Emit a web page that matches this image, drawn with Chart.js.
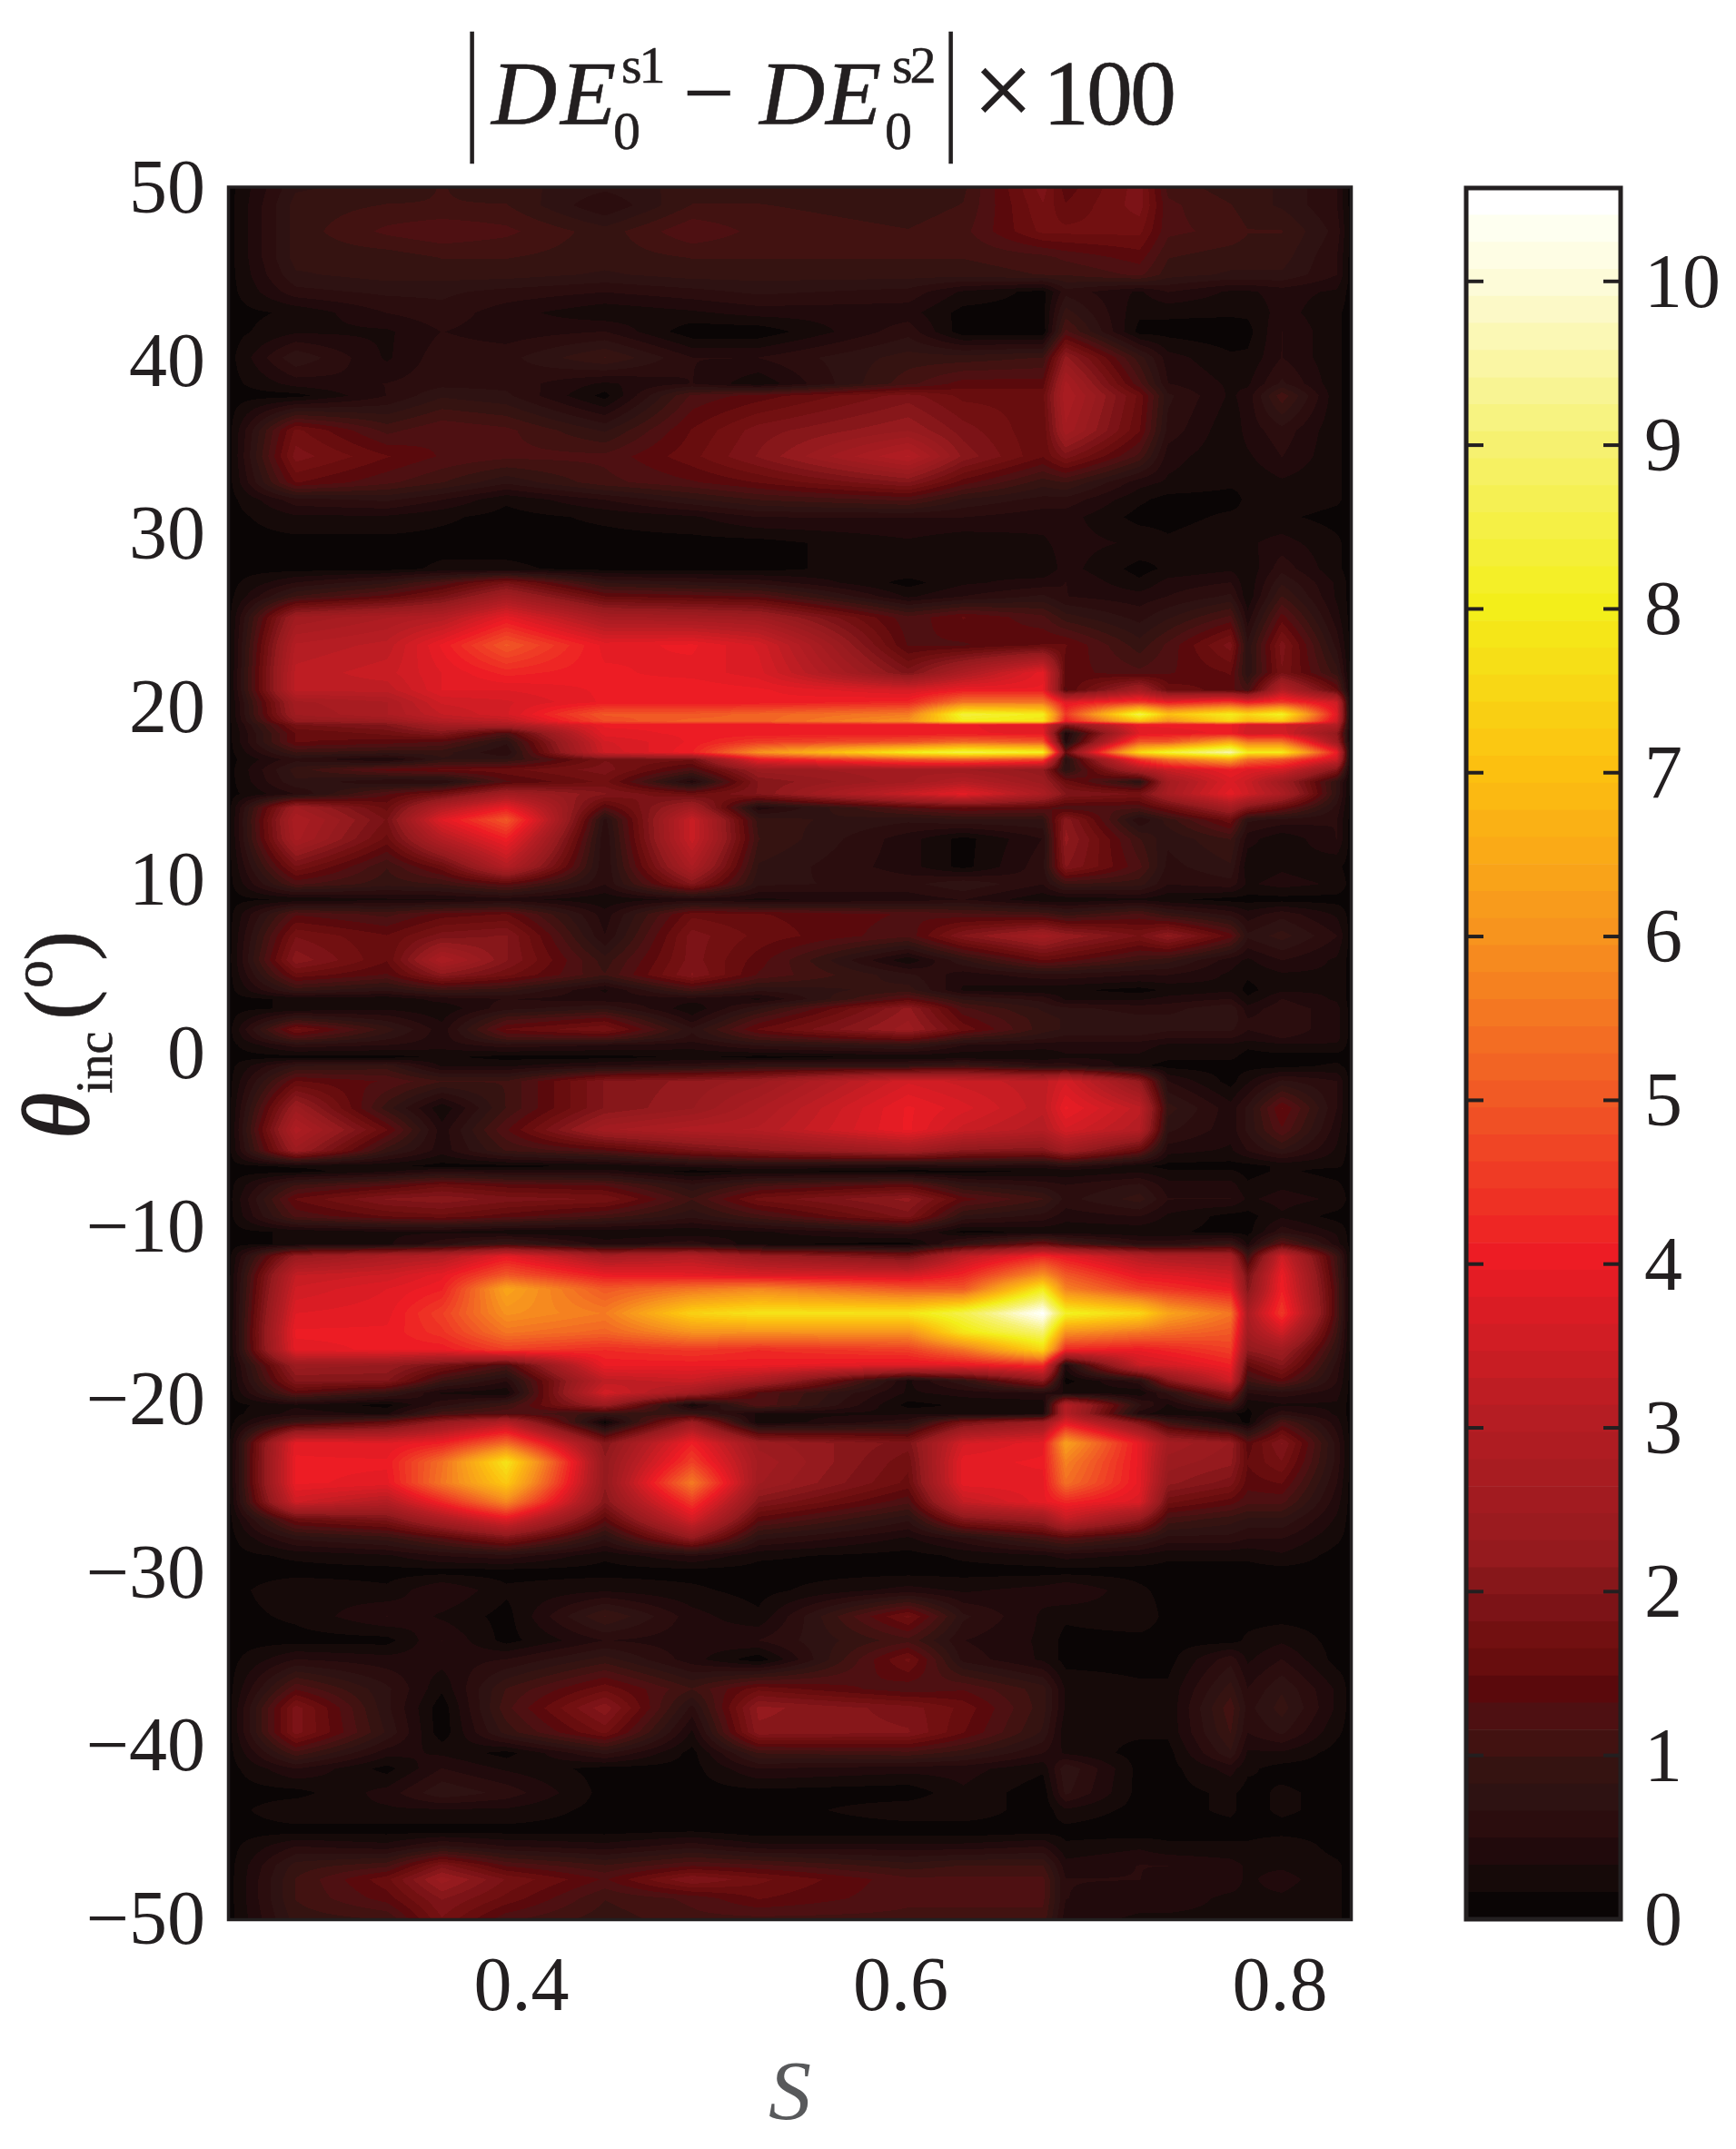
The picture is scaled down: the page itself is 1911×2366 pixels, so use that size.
<!DOCTYPE html>
<html><head><meta charset="utf-8">
<script src="https://cdn.jsdelivr.net/npm/chart.js@4"></script>
<style>
html,body{margin:0;padding:0;background:#fff;overflow:hidden}
#page{position:relative;width:1911px;height:2366px;font-family:"Liberation Serif",serif;color:#231f20}
canvas{position:absolute;top:0}
.t{position:absolute;white-space:pre;line-height:0;-webkit-text-stroke:.6px #231f20}
</style></head><body><div id="page">
<canvas id="heat" width="1911" height="2366" style="left:0"></canvas>
<canvas id="bar" width="411" height="2366" style="left:1500px"></canvas>
<div id="title"></div><div id="ylabel"></div>
</div>
<script>
const sColumns=[.281,.329,.358,.392,.444,.490,.525,.604,.633,.675,.687,.726,.741,.774,.783,.801,.830];
const thetaRows=[50,49,47.5,46,45,44,42.8,41.7,40.2,38.7,38,36,34.5,33,32,31,29.5,28,27.2,26.4,25.2,23.6,22,21,20.3,19.6,19.2,19,18.5,18,17.4,17,16.4,15.7,15,14.2,13.5,12.4,10.8,9.8,8.9,8.05,6.8,5.4,4.55,3.67,3.15,2.6,2,1.4,.9,.5,-.2,-.7,-1.6,-3.15,-4.4,-5.6,-6.5,-6.8,-7.6,-8.4,-9.4,-10.3,-11,-11.7,-12.8,-13.6,-15,-16.1,-17.1,-18,-18.9,-19.6,-20.3,-20.8,-21.3,-22.5,-23.6,-24.8,-25.9,-26.9,-28,-29,-29.9,-31,-32.5,-33.9,-35,-36.7,-37.8,-39.2,-40.4,-41.3,-42.7,-43.7,-44.9,-45.8,-46.9,-47.7,-48.8,-50];
const heatValues=[
[.8,.9,1,.9,.7,.9,.9,.9,.95,1.9,1.4,1.9,1.1,.9,.9,.8,.5],
[.9,1,1,1,.5,1,1,.9,1,1.8,1.5,1.9,1.2,1,.9,.8,.5],
[.9,1.2,1.3,1.2,.9,1.3,1.1,1,1.1,1.7,1.7,1.7,1.2,1.1,1,1,.6],
[.9,.9,1,1,.9,1,1,1,1,1.1,1.2,1.4,1,.9,.9,.9,.5],
[.8,.9,.9,.9,.8,.9,.9,.9,.9,1,1,1.2,.9,.8,.8,.8,.5],
[.6,.7,.7,.6,.5,.6,.7,.6,.3,.1,.6,.3,.5,.3,.3,.4,.3],
[.2,.5,.6,.4,.2,.3,.4,.4,.1,.1,.9,.2,.2,.2,.2,.4,.2],
[.3,.3,.5,.4,.5,.05,.05,.6,.05,.05,1.2,.1,.1,.05,.1,.5,.2],
[.8,.3,.6,.6,1,.5,.5,.9,.9,1,2.2,.9,.4,.2,.2,.5,.2],
[.4,.5,.6,.6,.3,.5,.2,1.1,1.4,1.4,2.7,1.2,.5,.3,.3,.7,.2],
[.1,.5,.8,.7,.1,1.2,1.4,1.9,1.6,1.6,2.8,1.6,.7,.3,.4,1.1,.2],
[1.7,1.1,1.3,1.2,.8,1.5,1.9,2.3,1.9,1.5,2.6,1.5,.6,.2,.4,.6,.2],
[1.9,1.5,1.3,1.2,1.2,1.6,2,3,2.1,1.5,1.9,1.1,.4,.2,.3,.5,.2],
[1.5,1.2,1,.7,1.1,1.3,1.5,2,1.4,.9,1,.4,.3,.2,.2,.3,.2],
[.6,.7,.5,.2,.5,.8,1,1.2,.8,.6,.6,.2,.1,.1,.2,.3,.2],
[.3,.3,.2,.1,.2,.3,.5,.5,.5,.4,.4,.1,.1,.2,.2,.2,.1],
[.1,.1,.1,.1,.1,.1,.1,.3,.2,.3,.4,.3,.2,.3,.3,.4,.2],
[.1,.1,.2,.2,.1,.1,.1,.3,.3,.2,.4,.1,.2,.3,.2,.6,.2],
[.5,.8,1.2,1.8,.8,.7,.6,.1,.3,.4,.5,.2,.4,.5,.2,.8,.3],
[1,1.4,1.8,2.6,1.5,1.4,1.3,.3,.5,.7,.5,.4,.5,.7,.2,1,.3],
[2.5,2.8,3,3.9,2.7,2.6,2.5,1.2,1.5,1.2,.9,.6,.8,1.2,.4,1.4,.4],
[3,3.2,4,5,3.9,4,3.6,1.3,1.3,1.5,1.5,.9,1.2,1.9,.7,1.9,.6],
[3.2,3.4,3.8,4.2,4,3.9,3.7,1.9,2.8,3.9,1.4,1.2,1.3,1.5,.7,1.8,.9],
[3.2,3.2,3.8,3.8,4,4.1,4,3.6,4,4,1.3,2.6,1.6,1.4,1.1,3,1.5],
[2.6,2.8,3.5,3.6,4,4,4,4.2,5.5,5.5,3.8,4.5,4,4.5,4,4.5,3.5],
[2.5,2.8,3.3,3.6,5,5,5.2,5.6,8.4,8,4.5,8.6,7,8,7.5,8.2,3.8],
[2.2,2.4,3,3.2,4.8,5.2,5.2,6,8,7.8,4,7,6,7.5,6.8,7.2,3.5],
[1.8,2,2.6,2.8,4,4,4,4,4,3.8,2,4,4,4,3.6,3.5,3],
[1.5,1.7,2,1.2,3.9,4,4,4,4,3.9,.3,3.8,3.9,4,3.5,3.6,2.2],
[1.5,1.4,1.3,.7,3.6,4,4.5,4.9,5.3,5,.4,5,5,6.5,5.5,5.5,2.5],
[1,.9,.9,.5,3.5,4.1,6,8,8.6,8.2,1.5,7.6,8.4,9.6,8,8,4],
[.6,.3,.8,.8,1.8,1.7,4,5,5.2,4.8,.6,4.5,5.4,6.5,5.4,5,3.5],
[.9,1.4,1.5,1.6,1.9,1.2,2.4,2.6,2.5,2.2,.7,2.8,3.4,4,3.8,3.6,2],
[.8,.5,.5,1.3,1.7,.4,2,2.6,3,2.4,1.6,.7,2.6,3.7,3.4,2.5,.8],
[.5,1.3,1.7,2.6,2,1.6,2,3.4,3.9,2.8,2,1.8,2.7,3.9,3.5,2.8,.8],
[2.5,1.6,3,4,1.3,2.6,.4,1.3,1.5,1.4,1.2,1.2,1.6,2.6,2,1.5,.6],
[2.8,1.8,3.8,5,.6,3.4,.9,.7,.8,.8,2.1,.5,.9,1.6,.7,.6,.5],
[2.7,1.6,3,4.1,.5,3.4,1,.4,.1,.5,2.2,1,.7,1,.4,.2,.5],
[1.8,1,1.6,3,.5,2.8,.8,.4,.1,.6,2,1.2,.6,.8,.2,.3,.2],
[1.2,.9,1,1.4,.5,2,.7,.6,.8,.5,1,.9,.5,.6,.3,.4,.3],
[.2,.3,.3,.4,.2,.4,.3,.4,.5,.2,.2,.3,.2,.1,.1,.1,.1],
[1.3,1.1,1.4,1.5,.4,1.6,1.5,1.3,1.2,1.1,.9,1.2,.9,.6,.4,.6,.3],
[1.8,1.5,1.9,2,.5,1.9,1.6,1.2,2,2.6,2.3,1.8,2.2,1.4,.7,.9,.5],
[2.1,1.5,2.8,2,.9,1.9,1.4,.2,.8,1.5,1.4,1,.9,.4,.3,.5,.3],
[1.6,1.3,2.1,1.7,1,2,1.3,.7,.4,.6,.6,.5,.5,.3,.2,.3,.3],
[.9,.7,1,.9,.3,1.1,.7,.9,.3,.2,.2,.1,.2,.3,.1,.3,.3],
[.2,.2,.4,.5,.4,.4,.3,1.4,.8,.6,.3,.3,.4,.5,.2,.5,.3],
[.2,.3,.2,.6,.8,.2,.8,2.2,1.2,.8,.7,.6,.6,.8,.4,.6,.4],
[.9,.6,.3,1.1,1.4,.4,1.2,2.3,1.4,.9,.8,.7,.7,.8,.5,.6,.4],
[1.7,.9,.4,1.5,1.8,.7,1.5,2.4,1.6,.9,.8,.8,.7,.7,.5,.6,.4],
[1.2,.7,.4,1.1,1.2,.6,1.1,1.6,1,.7,.6,.6,.5,.5,.4,.5,.4],
[.6,.5,.4,.6,.5,.4,.7,.9,.5,.4,.4,.4,.3,.3,.2,.3,.3],
[.1,.1,.2,.1,.1,.2,.1,.2,.2,.2,.3,.3,.2,.2,.1,.1,.1],
[.8,.9,.3,.3,.5,.6,.8,.8,1,.6,.6,.2,.1,.1,.1,.1,.2],
[1.5,1.3,1,1,2,2.2,2.4,3.6,3.4,3.2,3.6,2.2,.5,.1,.3,.7,.5],
[2.4,.9,.2,1,2,2.3,2.8,4,3.7,3.2,4,3.2,.9,.4,.7,1.5,.5],
[2.9,1.5,.4,1.3,2.6,2.9,3,4,3.4,3,3.6,3,.7,.4,.7,1.3,.4],
[2.4,.9,.4,1,1.3,1.8,2.1,2.6,2.1,2,2.5,1.5,.4,.3,.5,.8,.3],
[.2,.2,.1,.1,.2,.4,.5,.4,.5,.4,.6,.2,.1,.1,.1,.2,.2],
[.1,.3,.5,.4,.4,.1,.2,.1,.1,.2,.2,.3,.2,.2,.1,.2,.1],
[1,1.3,1.6,1.4,1.3,.7,1.1,1.4,.8,.6,.5,.7,.4,.4,.2,.3,.2],
[1.5,2,2.1,1.9,1.8,1,1.7,2.2,1.4,1,.6,.9,.5,.5,.3,.4,.3],
[1.2,1.5,1.6,1.4,1.1,.7,1.1,1.9,.8,.6,.4,.5,.3,.1,.1,.3,.1],
[.2,.3,.3,.2,.2,.2,.3,.6,.1,.2,.2,.2,.2,.1,.1,.6,.3],
[.2,.3,.6,1,.4,.6,.2,.1,.8,1.6,1.2,.6,.6,.9,.3,1.4,.4],
[2.3,2.8,3,3.9,2.7,3,2.4,1.8,3.2,4.2,3.9,3,2.8,2.7,1,3.5,1],
[3.3,3.5,3.9,5,4,3.9,3.7,3.6,4.2,6,5,3.9,3.8,3.5,1.8,4,1.1],
[3.5,3.8,4.1,6.4,5,5.5,5.8,5,5,8,5.7,4.6,4.4,4,2,4.1,1.2],
[3.8,3.9,4.6,6,5.6,7.4,7.8,7.8,8.6,10.5,8.2,7.5,6.4,5.5,2.8,4.5,1.2],
[4,4,4.4,5.5,5.2,6,6,6,7.8,9,6,5.5,5.3,5,2.6,3.5,1],
[3.9,4,4,4.6,4.3,4.5,4.3,4.6,5.5,7.5,4.2,4,4.2,4.6,2.2,2.5,.8],
[2.4,2.3,1.8,1.2,4,4,4,3.8,3.9,4.3,.4,3.4,3.6,4.1,1.5,2,.6],
[2,2,1,.5,3.2,3.4,2.8,.3,.8,2.1,.1,.6,2,3.5,1,1.4,.5],
[1.4,.9,.3,.2,3.6,2.6,1.3,.3,.4,.5,.3,.2,.7,2,.5,.6,.4],
[.3,.1,.6,1,2.4,.2,1.3,.1,.2,.2,3,.7,.3,1,.2,.3,.3],
[.4,.3,1.1,1.3,.9,.9,.3,.3,.2,.3,3,.4,.2,.2,.1,.6,.3],
[1,1.5,2.3,3,.1,2.4,.2,.6,1.8,2.4,3.8,1.9,1,.3,.1,1.2,.4],
[3.9,3.8,4.1,5.3,2,4.1,2.4,1.9,3.6,3.9,6.3,3.9,2.6,2.3,1.4,2,.6],
[4,4,5.4,7.8,2.2,4.6,2.6,1.7,3.9,4,5.7,3.9,2.4,2.2,1.5,1.8,.6],
[4,3.9,5.5,7.2,2.2,5.6,2.5,1.6,3.9,3.9,5.4,3.9,2.2,1.9,1.4,1.5,.5],
[3.5,3,4.2,5.8,2,4.5,2,1.2,3.3,3.9,4.2,3.7,1.7,1.4,1.2,1.2,.4],
[1.6,1.9,2.8,3.8,1.4,3.6,1.4,.7,2,2.4,3.3,2.2,1.1,.9,.8,.8,.3],
[.7,.9,1.3,1.9,.7,2.2,.7,.3,.6,1.1,1.3,.9,.6,.6,.5,.5,.2],
[.2,.3,.5,.6,.2,.5,.2,.1,.2,.3,.4,.3,.2,.2,.2,.3,.1],
[.1,.1,.1,.1,.1,.1,.1,.1,.1,.1,.1,.1,.1,.1,.1,.1,.1],
[.3,.2,.5,.2,.3,.2,.1,.4,.3,.4,.5,.2,.1,.1,.1,.1,.1],
[.2,.5,.3,.1,1,.4,.2,1.7,.7,.3,.2,.3,.1,.1,.1,.1,.1],
[.1,.1,.5,.1,.5,.4,.5,1.1,.5,.3,.1,.1,.1,.1,.2,.3,.1],
[.5,.4,.4,.5,.9,.4,.05,1.7,.6,.3,.1,.1,.1,.6,.3,.5,.1],
[1.3,.7,.2,1,1.6,1,1.6,1.2,1.3,.9,.3,.2,.2,.9,.5,.8,.3],
[1.9,.7,.05,1.1,2.1,.6,2.2,1.9,1.6,.9,.3,.2,.2,1.1,.6,.9,.3],
[1.9,.8,.05,.9,1.7,.3,2.1,2,1.5,.8,.2,.2,.2,1,.5,.7,.2],
[1.1,.4,.3,.1,.7,.1,1,1.1,.9,.5,.3,.1,.1,.8,.3,.3,.1],
[.5,.1,.5,.3,.1,.1,.5,.4,.4,.2,.8,.1,.1,.4,.2,.1,.1],
[.1,.4,.8,.6,.1,.1,.1,.05,.3,.05,.7,.1,.1,.2,.1,.2,.1],
[.3,.3,.3,.3,.1,.05,.05,.3,.3,.05,.3,.1,.1,.2,.1,.2,.1],
[.1,.1,.1,.1,.1,.15,.05,.05,.05,.1,.1,.05,.1,.1,.1,.1,.1],
[.5,.4,.7,.5,.4,.6,.4,.4,.4,.5,.2,.3,.2,.2,.2,.3,.1],
[.9,1.1,1.9,1.3,1,1.3,1.2,.9,1,1,.4,.5,.5,.4,.3,.3,.2],
[1,1.6,2.4,1.8,1.3,2,1.7,1.2,1.2,1.2,.5,.5,.4,.4,.3,.4,.2],
[1,1.4,2,1.6,1,1.2,1.5,1.2,1.2,1.2,.5,.4,.4,.3,.3,.3,.2],
[.9,1,1.8,1.2,.9,1.1,1.1,1.1,1.1,1.1,.4,.3,.3,.3,.3,.2,.2]
];
const edgeS=[.2457,.8374];
const edgeValue=.1;
const sTicks=[.4,.6,.8];
const thetaTicks=[-50,-40,-30,-20,-10,0,10,20,30,40,50];
const barTicks=[0,1,2,3,4,5,6,7,8,9,10];
const valueMax=10.57;
const levelCount=64;
const colorAnchors=[[0,'0a0505'],[1,'160a09'],[2,'210a0c'],[3,'2b0d0e'],[4,'2e1212'],[5,'351311'],[6,'421211'],[7,'4e1012'],[8,'5a090c'],[9,'680d0e'],[10,'721011'],[11,'7c1317'],[12,'87171a'],[13,'951a1e'],[18,'b51d23'],[24,'ed1c24'],[30,'f15a25'],[36,'f7941e'],[42,'fcc010'],[48,'f3ee1a'],[54,'f6f170'],[60,'fdfbd8'],[62,'fefff0'],[63,'ffffff']];

const ink='#231f20';
const hex=h=>[0,2,4].map(i=>parseInt(h.substr(i,2),16));
const palette=[];
for(let a=0;a<colorAnchors.length-1;a++){
  const [i0,c0]=colorAnchors[a],[i1,c1]=colorAnchors[a+1];
  const p=hex(c0),q=hex(c1);
  for(let i=i0;i<i1;i++){const t=(i-i0)/(i1-i0);palette[i]=p.map((v,k)=>Math.round(v+(q[k]-v)*t));}
}
palette[63]=[255,255,255];
const css=c=>`rgb(${c[0]},${c[1]},${c[2]})`;

const heatPlugin={id:'heat',beforeDatasetsDraw(chart){
  const {ctx,chartArea:a,scales:{x,y}}=chart;
  const xs=[edgeS[0],...sColumns,edgeS[1]];
  const px=xs.map(s=>x.getPixelForValue(s));
  const py=thetaRows.map(t=>y.getPixelForValue(t));
  const L=Math.round(a.left),T=Math.round(a.top),W=Math.round(a.right)-L,H=Math.round(a.bottom)-T;
  const img=ctx.createImageData(W,H),d=img.data;
  const cellAt=(r,c)=>(c===0||c===xs.length-1)?edgeValue:heatValues[r][c-1];
  let r=0;
  for(let j=0;j<H;j++){
    const Y=T+j+.5;
    while(r<py.length-2&&Y>py[r+1])r++;
    const v=Math.min(1,Math.max(0,(Y-py[r])/(py[r+1]-py[r])));
    let c=0;
    for(let i=0;i<W;i++){
      const X=L+i+.5;
      while(c<px.length-2&&X>px[c+1])c++;
      const u=Math.min(1,Math.max(0,(X-px[c])/(px[c+1]-px[c])));
      const val=(cellAt(r,c)*(1-u)+cellAt(r,c+1)*u)*(1-v)+(cellAt(r+1,c)*(1-u)+cellAt(r+1,c+1)*u)*v;
      const col=palette[Math.min(levelCount-1,Math.floor(val/valueMax*levelCount))];
      const o=(j*W+i)*4;d[o]=col[0];d[o+1]=col[1];d[o+2]=col[2];d[o+3]=255;
    }
  }
  ctx.putImageData(img,L,T);
},afterDraw(chart){
  const {ctx,chartArea:a}=chart;
  ctx.save();ctx.strokeStyle=ink;ctx.lineWidth=3.5;
  ctx.strokeRect(a.left-.5,a.top-1,a.right-a.left+1,a.bottom-a.top+1.5);ctx.restore();
}};

const tickFont={family:'"Liberation Serif"',size:84};
new Chart(document.getElementById('heat'),{
  type:'scatter',
  data:{datasets:[{label:'|DE0s1 − DE0s2| × 100',pointRadius:0,
    data:thetaRows.flatMap((t,r)=>sColumns.map((s,c)=>({x:s,y:t,v:heatValues[r][c]})))}]},
  options:{responsive:false,animation:false,
    layout:{padding:{left:0,top:207,right:1911-1487,bottom:0}},
    plugins:{legend:{display:false},tooltip:{enabled:false},title:{display:false}},
    scales:{
      x:{type:'linear',min:edgeS[0],max:edgeS[1],
        afterFit:s=>{s.height=2366-2113},
        afterBuildTicks:s=>{s.ticks=sTicks.map(v=>({value:v}))},
        grid:{display:false},border:{display:false},
        ticks:{autoSkip:false,maxRotation:0,color:ink,font:tickFont,padding:20,callback:v=>v.toFixed(1)},
        title:{display:true,text:'S',color:'#58595b',font:{family:'"Liberation Serif"',style:'italic',size:94},padding:{top:0,bottom:1}}},
      y:{type:'linear',min:-50,max:50,
        afterFit:s=>{s.width=252},
        afterBuildTicks:s=>{s.ticks=thetaTicks.map(v=>({value:v}))},
        grid:{display:false},border:{display:false},
        ticks:{autoSkip:false,color:ink,font:tickFont,padding:18,labelOffset:5,callback:v=>String(v).replace('-','\u2212')}}
    }
  },
  plugins:[heatPlugin]
});

const barPlugin={id:'colorbarFrame',afterDraw(chart){
  const {ctx,chartArea:a,scales:{y}}=chart;
  ctx.save();ctx.strokeStyle=ink;ctx.fillStyle=ink;ctx.lineWidth=5;
  ctx.strokeRect(a.left,a.top,a.right-a.left,a.bottom-a.top);
  barTicks.forEach(v=>{if(v===0)return;const p=y.getPixelForValue(v);
    ctx.fillRect(a.left,p-2,19,4);ctx.fillRect(a.right-19,p-2,19,4);});
  ctx.restore();
}};
new Chart(document.getElementById('bar'),{
  type:'bar',
  data:{labels:['scale'],datasets:palette.map((c,i)=>({label:'L'+i,
    data:[[i*valueMax/levelCount,(i+1)*valueMax/levelCount]],
    backgroundColor:css(c),borderWidth:0,barPercentage:1,categoryPercentage:1,grouped:false}))},
  options:{responsive:false,animation:false,
    layout:{padding:{left:114,top:207,right:0,bottom:2366-2113}},
    plugins:{legend:{display:false},tooltip:{enabled:false}},
    scales:{
      x:{display:false},
      y:{type:'linear',position:'right',min:0,max:valueMax,
        afterFit:s=>{s.width=1911-1784},
        afterBuildTicks:s=>{s.ticks=barTicks.map(v=>({value:v}))},
        grid:{display:false},border:{display:false},
        ticks:{autoSkip:false,color:ink,font:tickFont,padding:18,labelOffset:6,callback:v=>String(v)}}
    }
  },
  plugins:[barPlugin]
});

function piece(parent,text,x,base,fs,extra){
  const e=document.createElement('span');e.className='t';e.textContent=text;
  e.style.cssText=`left:${x}px;top:${base-.3375*fs}px;font-size:${fs}px;${extra||''}`;
  parent.appendChild(e);return e;
}
const ti=document.getElementById('title');ti.style.cssText='position:absolute;left:0;top:0';
const it='font-style:italic;';
const bar='transform:scaleX(.55);transform-origin:left center;';
piece(ti,'|',511,146,158,bar);
piece(ti,'D',541,137,100,it);piece(ti,'E',617,137,100,it);
piece(ti,'s1',684,92,58,'letter-spacing:-3px;');piece(ti,'0',675,164,60);
piece(ti,' \u2212 ',730,137,100,'letter-spacing:-3px;');
piece(ti,'D',836,137,100,it);piece(ti,'E',909,137,100,it);
piece(ti,'s2',982,92,58,'letter-spacing:-3px;');piece(ti,'0',974,164,60);
piece(ti,'|',1038,146,158,bar);
piece(ti,'\u00d7',1071,140,118);
piece(ti,'100',1148,137,102,'letter-spacing:-3px;');

const yl=document.getElementById('ylabel');
yl.style.cssText='position:absolute;left:97px;top:1254px;transform-origin:0 0;transform:rotate(-90deg);width:0;height:0';
piece(yl,'\u03b8',0,0,104,'font-style:italic;-webkit-text-stroke:1.6px #231f20;');
piece(yl,'inc',50,26,56);
piece(yl,'(',131,0,100);
piece(yl,'o',166,-40,62);
piece(yl,')',196,0,100);
</script></body></html>
